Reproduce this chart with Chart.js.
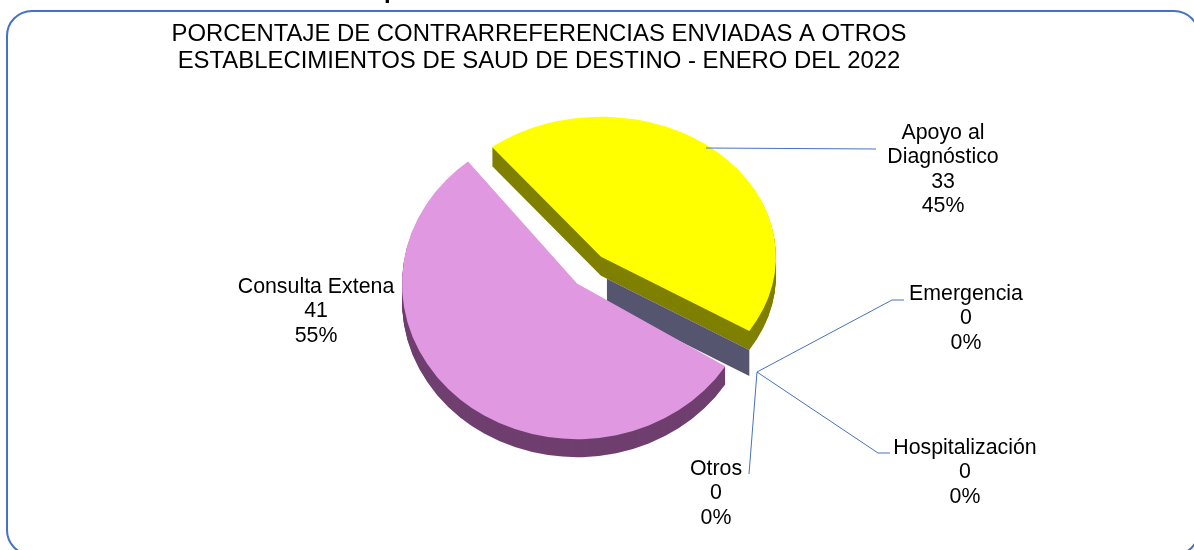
<!DOCTYPE html>
<html>
<head>
<meta charset="utf-8">
<title>Contrarreferencias</title>
<script src="https://cdn.jsdelivr.net/npm/chart.js@4"></script>
<style>
    html, body { margin: 0; padding: 0; background: #fff; width: 1194px; height: 550px; overflow: hidden; }
    #frame { position: absolute; left: 6px; top: 10px; width: 1194px; height: 546px; box-sizing: border-box;
             border: 2px solid #4472c4; border-radius: 26px; }
    #pie { position: absolute; left: 0; top: 0; }
</style>
</head>
<body>
<div id="frame"></div>
<canvas id="pie" width="1078" height="550"></canvas>
<script>
// Chart data
const categories = ['Apoyo al Diagnóstico', 'Emergencia', 'Hospitalización', 'Otros', 'Consulta Extena'];
const values = [33, 0, 0, 0, 41];
const percents = ['45%', '0%', '0%', '0%', '55%'];
const titleLines = [
    'PORCENTAJE DE CONTRARREFERENCIAS ENVIADAS A OTROS',
    'ESTABLECIMIENTOS DE SAUD DE DESTINO - ENERO DEL 2022'
];

// Look of the fake 3D pie
const FONT = '"Liberation Sans", Arial, sans-serif';
const topColors = ['#ffff00', '#5b5b75', '#5b5b75', '#5b5b75', '#e098e0'];
const wallColors = ['#7f7f00', '#5b5b75', '#5b5b75', '#5b5b75', '#6f3f6f'];
const CUT_WALL_COLOR = '#555570';
const tilt = [0.8, 1, 1, 1, 0.89];       // vertical squash per slice
const explode = [36, 0, 0, 0, 0];        // distance pulled out of the pie
const depth = [19, 0, 0, 0, 18];         // thickness of the wall
const CUT_WALL = [19, 45];               // band under the yellow slice
const CUT_WALL_START = 0.04;             // it starts a little way along the cut
const PIE_SHIFT_X = 38;

// Where the text blocks go: centre x, first line y, line texts come from the data
const labelSpots = [
    { x: 943, y: 133, lines: ['Apoyo al', 'Diagnóstico'] },
    { x: 966, y: 294 },
    { x: 965, y: 448 },
    { x: 716, y: 469 },
    { x: 316, y: 287, lines: ['Consulta Extena'] }
];
const LINE_GAP = 24.4;
const leaders = [
    [[706, 148], [876, 149]],
    [[757, 372], [892, 300], [904, 300]],
    [[757, 372], [878, 453], [890, 453]],
    [[757, 372], [749, 474]]
];

// Draw an arc with another colour, leaving the real element alone
function paintArc(arc, color, ctx) {
    const copy = Object.create(arc);
    copy.options = Object.assign({}, arc.options, { backgroundColor: color });
    Chart.ArcElement.prototype.draw.call(copy, ctx);
}

// Puts ctx in the slice's own space: centre moved, circle squashed
function sliceSpace(ctx, arc, i, dy) {
    const mid = (arc.startAngle + arc.endAngle) / 2;
    const cx = arc.x + PIE_SHIFT_X + Math.cos(mid) * explode[i];
    const cy = arc.y + Math.sin(mid) * explode[i] + dy;
    ctx.translate(cx, cy);
    ctx.scale(1, tilt[i]);
    ctx.translate(-arc.x, -arc.y);
    return { cx: cx, cy: cy };
}

const pie3d = {
    id: 'pie3d',
    beforeDatasetDraw(chart) {
        const ctx = chart.ctx;
        const arcs = chart.getDatasetMeta(0).data;

        // walls first
        [0, 4].forEach(i => {
            for (let d = depth[i]; d >= 1; d--) {
                ctx.save();
                sliceSpace(ctx, arcs[i], i, d);
                paintArc(arcs[i], wallColors[i], ctx);
                ctx.restore();
            }
        });

        // band below the straight cut of the yellow slice
        const a = arcs[0];
        ctx.save();
        const c = sliceSpace(ctx, a, 0, 0);
        ctx.restore();
        const tipX = c.cx + Math.cos(a.endAngle) * a.outerRadius;
        const tipY = c.cy + Math.sin(a.endAngle) * a.outerRadius * tilt[0];
        const startX = c.cx + (tipX - c.cx) * CUT_WALL_START;
        const startY = c.cy + (tipY - c.cy) * CUT_WALL_START;
        ctx.fillStyle = CUT_WALL_COLOR;
        ctx.beginPath();
        ctx.moveTo(startX, startY + CUT_WALL[0]);
        ctx.lineTo(tipX, tipY + CUT_WALL[0]);
        ctx.lineTo(tipX, tipY + CUT_WALL[1]);
        ctx.lineTo(startX, startY + CUT_WALL[1]);
        ctx.closePath();
        ctx.fill();

        // then the top faces
        [0, 4].forEach(i => {
            ctx.save();
            sliceSpace(ctx, arcs[i], i, 0);
            paintArc(arcs[i], topColors[i], ctx);
            ctx.restore();
        });
        return false;
    },
    afterDraw(chart) {
        const ctx = chart.ctx;
        ctx.save();

        // leader lines
        ctx.strokeStyle = '#4472c4';
        ctx.lineWidth = 1;
        leaders.forEach(pts => {
            ctx.beginPath();
            pts.forEach((p, n) => n ? ctx.lineTo(p[0], p[1]) : ctx.moveTo(p[0], p[1]));
            ctx.stroke();
        });

        // data labels
        ctx.fillStyle = '#000';
        ctx.font = '21.33px ' + FONT;
        ctx.textAlign = 'center';
        ctx.textBaseline = 'middle';
        categories.forEach((name, i) => {
            const spot = labelSpots[i];
            const lines = (spot.lines || [name]).concat([String(values[i]), percents[i]]);
            lines.forEach((t, n) => ctx.fillText(t, spot.x, spot.y + n * LINE_GAP));
        });

        // bit of the heading above the frame, cut by the page edge
        ctx.font = 'bold 24px ' + FONT;
        ctx.textAlign = 'left';
        ctx.textBaseline = 'alphabetic';
        ctx.fillText('p', 384, -2);
        ctx.restore();
    }
};

const chart = new Chart(document.getElementById('pie').getContext('2d'), {
    type: 'pie',
    data: {
        labels: categories,
        datasets: [{
            data: values,
            backgroundColor: topColors,
            borderWidth: 0,
            radius: 175
        }]
    },
    options: {
        responsive: false,
        animation: false,
        rotation: -38.5,
        layout: { padding: { bottom: 58 } },
        plugins: {
            legend: { display: false },
            tooltip: { enabled: false },
            title: {
                display: true,
                text: titleLines,
                color: '#000',
                font: { family: FONT, size: 23.9, weight: 'normal', lineHeight: 1.13 },
                padding: { top: 21, bottom: 0 }
            }
        }
    },
    plugins: [pie3d]
});
</script>
</body>
</html>
